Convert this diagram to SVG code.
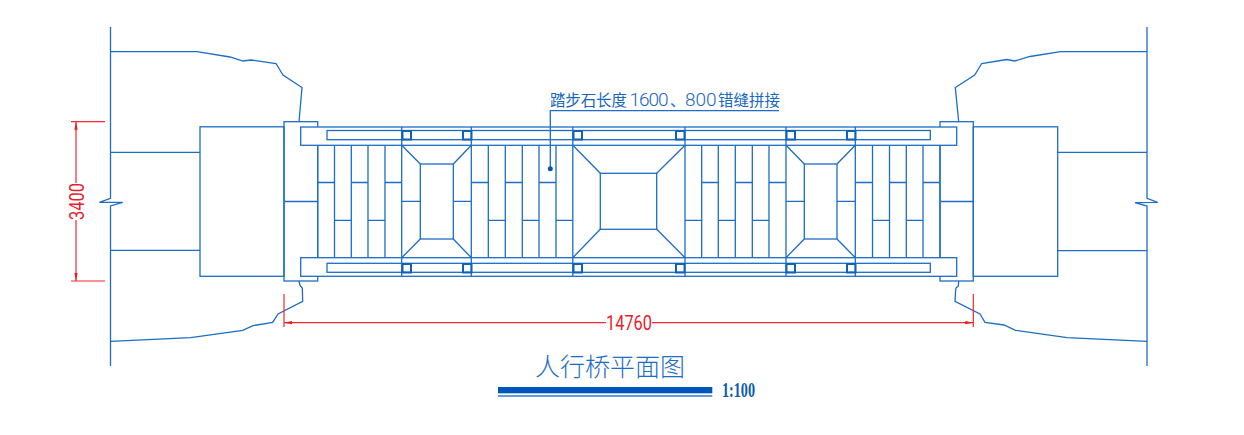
<svg xmlns="http://www.w3.org/2000/svg" width="1244" height="435" viewBox="0 0 1244 435">
<defs>
<style>
.b{fill:none;stroke:#1c6dc6;stroke-width:1.3}
.s{fill:none;stroke:#0f62b8;stroke-width:2}
.r{fill:none;stroke:#f02a30;stroke-width:1.2}
.rt{fill:#e81c2c;font-family:"Roboto","Liberation Sans",sans-serif;font-weight:400}
.bt{fill:#1c6dc6;font-family:"Noto Sans CJK SC",sans-serif;font-weight:300}
.lb{fill:#1766c0;font-family:"Noto Sans CJK SC",sans-serif;font-weight:400}
.ln{font-family:"Roboto","Liberation Sans",sans-serif;font-weight:300}
</style>
<marker id="ah" markerWidth="8" markerHeight="4" refX="8" refY="2" orient="auto-start-reverse" markerUnits="userSpaceOnUse"><path d="M0 0.4L8 2L0 3.6Z" fill="#f01818"/></marker>
</defs>
<rect width="1244" height="435" fill="#fff"/>
<g id="left-bank" class="b">
<path class="b" d="M110.5 27V198.3L99.3 202.3H122.7L110.5 206V366"/>
<path class="b" d="M110.5 51.7H197L230 57L243 61L251 60L276 63.5L283 75L302 87.5L299 121.7"/>
<path class="b" d="M110.5 152.3H200M110.5 250.3H200"/>
<path class="b" d="M110.5 341.3L190.7 337.7L242.7 330.3L253 325.7L272.7 322.3L278 314L302.7 301.3L302.3 288L300 285.5L299 281"/>
<rect class="b" x="200" y="126.8" width="84" height="149.5"/>
</g>
<g id="right-bank" class="b">
<path class="b" d="M1147 27V198.3L1157.7 202.3L1135 202.7L1147 206V366"/>
<path class="b" d="M1147 51.7H1060.7L1030 56.5L1014.5 61L1006.7 59.5L981.7 63.5L974.7 75L955.3 87.5L958.7 121.7"/>
<path class="b" d="M1147 152.3H1057.7M1147 250.7H1057.7"/>
<path class="b" d="M1147 341.3L1067 337.7L1015.5 330.3L1004 325L985 322.3L980 314L955 301.3L955.5 292L956 288L958.3 286L958.7 281"/>
<rect class="b" x="973.3" y="126.8" width="84.4" height="149.5"/>
</g>
<g id="left-abutment"><rect class="b" x="284" y="121.7" width="33.7" height="159.3"/><path class="b" d="M284 201.5H317.7"/></g>
<g id="right-abutment"><rect class="b" x="940" y="121.7" width="33.3" height="159.3"/><path class="b" d="M940 201.5H973.3"/></g>
<g id="deck-top"><rect class="b" x="300.7" y="127" width="656" height="18.3" style="fill:#fff"/><rect class="b" x="327" y="130.5" width="603.3" height="9.2"/></g>
<g id="deck-bottom"><rect class="b" x="300.7" y="257.7" width="656" height="18.6" style="fill:#fff"/><rect class="b" x="327" y="263.3" width="603.3" height="9"/></g>
<g id="posts">
<path class="b" d="M401.7 126.8V276.6M471.3 126.8V276.6M572.8 126.8V276.6M685 126.8V276.6M786 126.8V276.6M855.3 126.8V276.6"/>
</g>
<g id="slats-1">
<path class="b" d="M317.7 145.3V257.7M334.5 145.3V257.7M351.3 145.3V257.7M368 145.3V257.7M385 145.3V257.7"/>
<path class="b" d="M317.7 182.5H334.5M351.3 182.5H368M385 182.5H401.7M334.5 220.3H351.3M368 220.3H385"/>
</g>
<g id="slats-2">
<path class="b" d="M488.3 145.3V257.7M505.3 145.3V257.7M522.3 145.3V257.7M539 145.3V257.7M556 145.3V257.7"/>
<path class="b" d="M471.3 182.5H488.3M505.3 182.5H522.3M539 182.5H556M488.3 220.3H505.3M522.3 220.3H539M556 220.3H572.8"/>
</g>
<g id="slats-3">
<path class="b" d="M701.7 145.3V257.7M718.3 145.3V257.7M735.3 145.3V257.7M752.3 145.3V257.7M769 145.3V257.7"/>
<path class="b" d="M701.7 182.5H718.3M735.3 182.5H752.3M769 182.5H786M685 220.3H701.7M718.3 220.3H735.3M752.3 220.3H769"/>
</g>
<g id="slats-4">
<path class="b" d="M872.5 145.3V257.7M889.5 145.3V257.7M906.3 145.3V257.7M923 145.3V257.7M940 145.3V257.7"/>
<path class="b" d="M855.3 182.5H872.5M889.5 182.5H906.3M923 182.5H940M872.5 220.3H889.5M906.3 220.3H923"/>
</g>
<g id="platform-1">
<rect class="b" x="420.3" y="164" width="33" height="75"/>
<path class="b" d="M401.7 145.3L420.3 164M471.3 145.3L453.3 164M401.7 257.7L420.3 239M471.3 257.7L453.3 239M401.7 201.3H420.3M453.3 201.3H471.3"/>
</g>
<g id="platform-2">
<rect class="b" x="600.3" y="173.3" width="56.4" height="56"/>
<path class="b" d="M572.8 145.3L600.3 173.3M685 145.3L656.7 173.3M572.8 257.7L600.3 229.3M685 257.7L656.7 229.3"/>
</g>
<g id="platform-3">
<rect class="b" x="804.3" y="164" width="32.7" height="75"/>
<path class="b" d="M786 145.3L804.3 164M855.3 145.3L837 164M786 257.7L804.3 239M855.3 257.7L837 239M786 201.3H804.3M837 201.3H855.3"/>
</g>
<g id="blocks">
<path class="s" d="M402.5 131h8.5v8.5h-8.5zM463 131h8.5v8.5H463zM573.5 131h8.5v8.5h-8.5zM676 131h8.5v8.5H676zM786.5 131h8.5v8.5h-8.5zM847 131h8.5v8.5H847zM402.5 264h8.5v8.5h-8.5zM463 264h8.5v8.5H463zM573.5 264h8.5v8.5h-8.5zM676 264h8.5v8.5H676zM786.5 264h8.5v8.5h-8.5zM847 264h8.5v8.5H847z"/>
</g>
<g id="connectors">
<path class="b" d="M550.3 168.7V110.7H779"/>
<circle cx="550.3" cy="168.7" r="2.5" fill="#0b55a8"/>
<path class="r" d="M71 121.7H105M71 281H105"/>
<path class="r" d="M76 183V121.7" marker-end="url(#ah)"/>
<path class="r" d="M76 220V281" marker-end="url(#ah)"/>
<path class="r" d="M284 294V327M973.3 294V327"/>
<path class="r" d="M606 322.7H284" marker-end="url(#ah)"/>
<path class="r" d="M652 322.7H973.3" marker-end="url(#ah)"/>
</g>
<g id="labels">
<text class="rt" font-size="21" transform="translate(84,220) rotate(-90)" textLength="37" lengthAdjust="spacingAndGlyphs">3400</text>
<text class="rt" font-size="20" x="606" y="330" textLength="46" lengthAdjust="spacingAndGlyphs">14760</text>
<text class="lb" font-size="15.5" y="106"><tspan x="550" textLength="77">踏步石长度</tspan><tspan class="ln" font-size="19" x="629.5" textLength="39" lengthAdjust="spacing">1600</tspan><tspan x="670">、</tspan><tspan class="ln" font-size="19" x="685" textLength="31.5" lengthAdjust="spacing">800</tspan><tspan x="718" textLength="62">错缝拼接</tspan></text>
<text class="bt" font-size="25" x="535" y="376" textLength="150">人行桥平面图</text>
<rect x="498" y="387" width="214.3" height="6.3" fill="#0055b8"/>
<rect x="498" y="395.2" width="214.3" height="1.6" fill="#3f86d2"/>
<text font-family="Liberation Serif,serif" font-weight="700" font-size="21" fill="#0d5bb4" x="722" y="397" textLength="33" lengthAdjust="spacingAndGlyphs">1:100</text>
</g>
</svg>
